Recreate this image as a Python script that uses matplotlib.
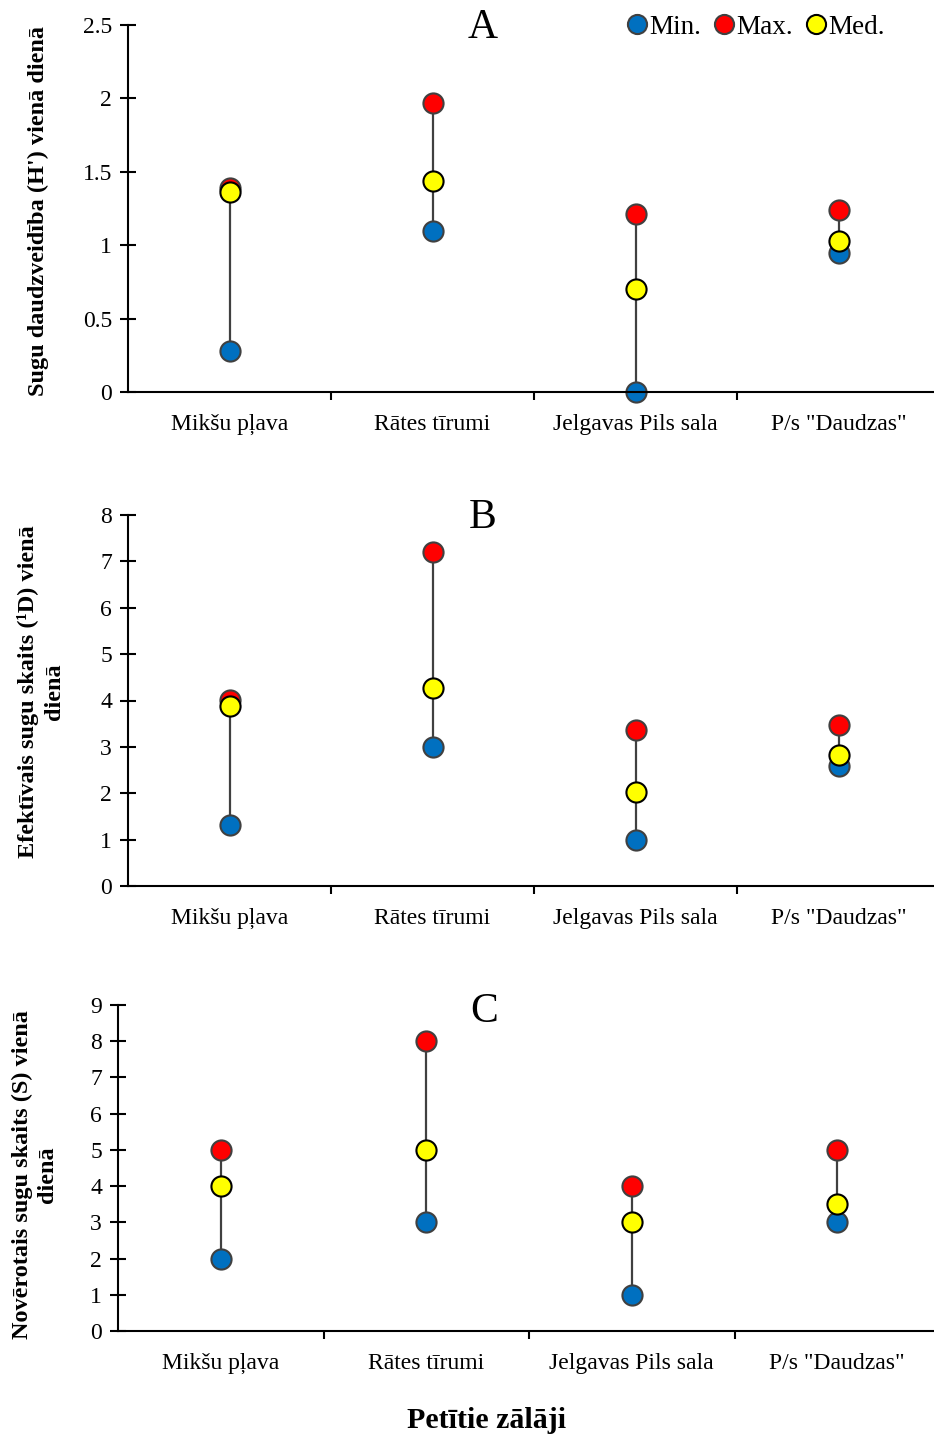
import matplotlib.pyplot as plt
import numpy as np

plt.rcParams['font.family'] = ['Liberation Serif', 'DejaVu Serif']

# pļavas (categories)
sites = ['Mikšu pļava', 'Rātes tīrumi', 'Jelgavas Pils sala', 'P/s "Daudzas"']

# A - Shannon H'
h_min = [0.28, 1.10, 0.0, 0.95]
h_max = [1.39, 1.97, 1.21, 1.24]
h_med = [1.36, 1.44, 0.70, 1.03]

# B - efektivais sugu skaits 1D
d_min = [1.31, 3.0, 1.0, 2.59]
d_max = [4.01, 7.2, 3.36, 3.47]
d_med = [3.88, 4.27, 2.03, 2.82]

# C - noverotais sugu skaits S
s_min = [2, 3, 1, 3]
s_max = [5, 8, 4, 5]
s_med = [4, 5, 3, 3.5]

fig = plt.figure(figsize=(9.34, 14.37), dpi=100)
H = 1437.0
W = 934.0

def add_ax(left_px, top_px, bottom_px, right_px=940):
    return fig.add_axes([left_px / W, 1 - bottom_px / H, (right_px - left_px) / W, (bottom_px - top_px) / H])

axA = add_ax(128, 25, 392)
axB = add_ax(128, 515, 886)
axC = add_ax(118, 1005, 1331)

panels = [
    (axA, h_min, h_max, h_med, 2.5, 0.5, 'A'),
    (axB, d_min, d_max, d_med, 8, 1, 'B'),
    (axC, s_min, s_max, s_med, 9, 1, 'C'),
]

x = np.arange(len(sites))
for ax, mn, mx, md, ytop, step, letter in panels:
    ax.vlines(x, mn, mx, color='#404040', lw=1.6, zorder=1)
    ax.plot(x, mn, 'o', ms=14.5, mfc='#0070C0', mec='#404040', mew=1.5, ls='none', zorder=2, label='Min.')
    ax.plot(x, mx, 'o', ms=14.5, mfc='#FF0000', mec='#404040', mew=1.5, ls='none', zorder=3, label='Max.')
    ax.plot(x, md, 'o', ms=14.5, mfc='#FFFF00', mec='black', mew=1.5, ls='none', zorder=4, label='Med.')
    ax.set_xlim(-0.5, 3.5)
    ax.set_ylim(0, ytop)
    yt = np.arange(0, ytop + step / 2, step)
    ax.set_yticks(yt)
    ax.set_yticklabels(['%g' % v for v in yt])
    ax.set_xticks(x)
    ax.set_xticklabels(sites)
    ax.set_xticks([0.5, 1.5, 2.5], minor=True)
    ax.tick_params(axis='x', which='major', length=0, pad=16, labelsize=17)
    ax.tick_params(axis='x', which='minor', direction='out', length=6, width=1.5)
    ax.tick_params(axis='y', which='major', direction='inout', length=11, width=1.5, labelsize=17, pad=6)
    ax.spines['top'].set_visible(False)
    ax.spines['right'].set_visible(False)
    ax.spines['left'].set_linewidth(1.5)
    ax.spines['bottom'].set_linewidth(1.5)
    for ln in ax.lines:
        ln.set_clip_on(False)
    for c in ax.collections:
        c.set_clip_on(False)

fig.text(483 / W, 1 - 28 / H, 'A', ha='center', va='center', fontsize=30)
fig.text(483 / W, 1 - 518 / H, 'B', ha='center', va='center', fontsize=30)
fig.text(484 / W, 1 - 1012 / H, 'C', ha='center', va='center', fontsize=30)

fig.text(38 / W, 1 - 211 / H, "Sugu daudzveidība (H') vienā dienā", rotation=90,
         ha='center', va='center', fontsize=17.5, fontweight='bold')
fig.text(41 / W, 1 - 692 / H, "Efektīvais sugu skaits (¹D) vienā\ndienā", rotation=90,
         ha='center', va='center', fontsize=17.5, fontweight='bold', linespacing=1.3)
fig.text(35 / W, 1 - 1175 / H, "Novērotais sugu skaits (S) vienā\ndienā", rotation=90,
         ha='center', va='center', fontsize=17.5, fontweight='bold', linespacing=1.3)

fig.text(487 / W, 1 - 1420 / H, 'Petītie zālāji', ha='center', va='center',
         fontsize=21.5, fontweight='bold')

handles, labels = axA.get_legend_handles_labels()
fig.legend(handles, labels, loc='center', bbox_to_anchor=(757 / W, 1 - 27 / H), ncol=3,
           frameon=False, fontsize=19.5, handlelength=0.6, handletextpad=0.15,
           columnspacing=0.55, markerscale=0.95, borderaxespad=0, borderpad=0)

fig.savefig('out.png', dpi=100)
